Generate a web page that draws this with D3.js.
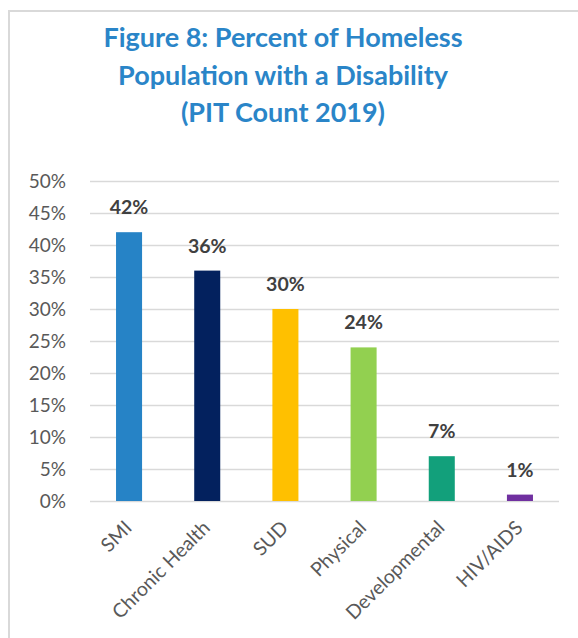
<!DOCTYPE html>
<html>
<head>
<meta charset="utf-8">
<script src="https://cdn.jsdelivr.net/npm/d3@7"></script>
<style>
  html, body { margin: 0; padding: 0; background: #fff; }
  svg { display: block; }
</style>
</head>
<body>
<svg id="chart" width="578" height="638"></svg>
<script>
// Disability categories, share of the homeless population, and bar colours
const categories = ["SMI", "Chronic Health", "SUD", "Physical", "Developmental", "HIV/AIDS"];
const percents = [42, 36, 30, 24, 7, 1];
const barColors = ["#2683c6", "#03215e", "#ffc000", "#92d050", "#12a07b", "#7030a0"];
const yTicks = [0, 5, 10, 15, 20, 25, 30, 35, 40, 45, 50];
const titleLines = ["Figure 8: Percent of Homeless", "Population with a Disability", "(PIT Count 2019)"];

const svg = d3.select("#chart");
const font = "Lato, 'Open Sans', sans-serif";

// Frame around the figure
svg.append("path")
  .attr("d", "M9,640 L9,11 L580,11")
  .attr("fill", "none")
  .attr("stroke", "#d9d9d9")
  .attr("stroke-width", 2);

// Title
svg.append("g").selectAll("text")
  .data(titleLines)
  .join("text")
  .attr("x", 283)
  .attr("y", (d, i) => 47 + i * 37.5)
  .attr("text-anchor", "middle")
  .attr("font-family", font)
  .attr("font-weight", "bold")
  .attr("font-size", 27)
  .attr("fill", "#2a85c8")
  .text(d => d);

// Scales
const x = d3.scaleBand()
  .domain(categories)
  .range([90, 559])
  .paddingInner(0.667)
  .paddingOuter(0.333);

const y = d3.scaleLinear()
  .domain([0, 50])
  .range([501, 181]);

// Horizontal gridlines and y-axis labels
const yAxis = d3.axisLeft(y)
  .tickValues(yTicks)
  .tickSize(-(559 - 90))
  .tickPadding(24)
  .tickFormat(d => d + "%");

const yg = svg.append("g")
  .attr("transform", "translate(90,0)")
  .call(yAxis);
yg.select(".domain").remove();
yg.selectAll(".tick line")
  .attr("stroke", "#d9d9d9")
  .attr("stroke-width", 1.6);
yg.selectAll(".tick text")
  .attr("font-family", font)
  .attr("font-size", 19)
  .attr("fill", "#595959");

// Bars
svg.append("g").selectAll("rect")
  .data(categories)
  .join("rect")
  .attr("x", d => x(d))
  .attr("width", x.bandwidth())
  .attr("y", (d, i) => y(percents[i]))
  .attr("height", (d, i) => y(0) - y(percents[i]))
  .attr("fill", (d, i) => barColors[i]);

// Value labels above bars
svg.append("g").selectAll("text")
  .data(categories)
  .join("text")
  .attr("x", d => x(d) + x.bandwidth() / 2)
  .attr("y", (d, i) => y(percents[i]) - 18)
  .attr("text-anchor", "middle")
  .attr("font-family", font)
  .attr("font-weight", "bold")
  .attr("font-size", 19.5)
  .attr("fill", "#404040")
  .text((d, i) => percents[i] + "%");

// Rotated category labels
const xAxis = d3.axisBottom(x).tickSize(0).tickPadding(0);
const xg = svg.append("g")
  .attr("transform", "translate(0,501)")
  .call(xAxis);
xg.select(".domain").remove();
xg.selectAll(".tick text")
  .attr("font-family", font)
  .attr("font-size", 19.5)
  .attr("fill", "#595959")
  .attr("text-anchor", "end")
  .attr("dy", 0)
  .attr("y", 0)
  .attr("transform", "translate(4,28) rotate(-45)");
</script>
</body>
</html>
